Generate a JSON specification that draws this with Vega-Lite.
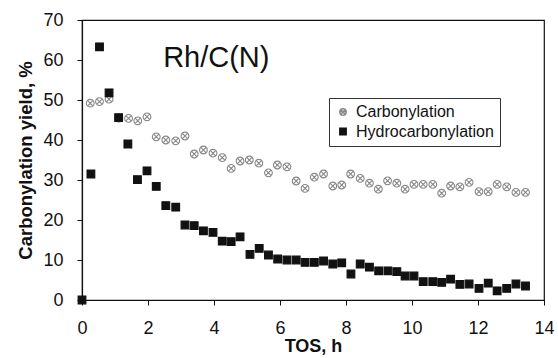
{
  "$schema": "https://vega.github.io/schema/vega-lite/v6.json",
  "width": 462,
  "height": 280,
  "autosize": {"type": "none"},
  "padding": {"left": 82, "top": 20, "right": 14, "bottom": 58},
  "background": "white",
  "config": {
    "font": "Liberation Sans",
    "view": {"stroke": "#111", "strokeWidth": 1.2},
    "axis": {"domainColor": "#111", "tickColor": "#111", "labelColor": "#111", "titleColor": "#111", "grid": false, "labelFlush": false, "labelOverlap": false}
  },
  "datasets": {
    "pts": [
      {"t": 0, "v": 0, "s": "Hydrocarbonylation"},
      {"t": 0.27, "v": 31.5, "s": "Hydrocarbonylation"},
      {"t": 0.53, "v": 63.3, "s": "Hydrocarbonylation"},
      {"t": 0.82, "v": 51.8, "s": "Hydrocarbonylation"},
      {"t": 1.11, "v": 45.6, "s": "Hydrocarbonylation"},
      {"t": 1.39, "v": 39, "s": "Hydrocarbonylation"},
      {"t": 1.68, "v": 30.1, "s": "Hydrocarbonylation"},
      {"t": 1.97, "v": 32.3, "s": "Hydrocarbonylation"},
      {"t": 2.25, "v": 28.4, "s": "Hydrocarbonylation"},
      {"t": 2.54, "v": 23.6, "s": "Hydrocarbonylation"},
      {"t": 2.84, "v": 23.2, "s": "Hydrocarbonylation"},
      {"t": 3.12, "v": 18.75, "s": "Hydrocarbonylation"},
      {"t": 3.40, "v": 18.6, "s": "Hydrocarbonylation"},
      {"t": 3.68, "v": 17.3, "s": "Hydrocarbonylation"},
      {"t": 3.97, "v": 16.9, "s": "Hydrocarbonylation"},
      {"t": 4.25, "v": 14.7, "s": "Hydrocarbonylation"},
      {"t": 4.52, "v": 14.6, "s": "Hydrocarbonylation"},
      {"t": 4.79, "v": 15.8, "s": "Hydrocarbonylation"},
      {"t": 5.09, "v": 11.4, "s": "Hydrocarbonylation"},
      {"t": 5.37, "v": 12.9, "s": "Hydrocarbonylation"},
      {"t": 5.65, "v": 11.25, "s": "Hydrocarbonylation"},
      {"t": 5.93, "v": 10.25, "s": "Hydrocarbonylation"},
      {"t": 6.21, "v": 10, "s": "Hydrocarbonylation"},
      {"t": 6.49, "v": 10, "s": "Hydrocarbonylation"},
      {"t": 6.76, "v": 9.4, "s": "Hydrocarbonylation"},
      {"t": 7.04, "v": 9.4, "s": "Hydrocarbonylation"},
      {"t": 7.32, "v": 9.75, "s": "Hydrocarbonylation"},
      {"t": 7.60, "v": 9, "s": "Hydrocarbonylation"},
      {"t": 7.87, "v": 9.3, "s": "Hydrocarbonylation"},
      {"t": 8.15, "v": 6.5, "s": "Hydrocarbonylation"},
      {"t": 8.43, "v": 9, "s": "Hydrocarbonylation"},
      {"t": 8.71, "v": 8.2, "s": "Hydrocarbonylation"},
      {"t": 8.99, "v": 7.3, "s": "Hydrocarbonylation"},
      {"t": 9.27, "v": 7.3, "s": "Hydrocarbonylation"},
      {"t": 9.54, "v": 7.1, "s": "Hydrocarbonylation"},
      {"t": 9.79, "v": 6, "s": "Hydrocarbonylation"},
      {"t": 10.06, "v": 6, "s": "Hydrocarbonylation"},
      {"t": 10.34, "v": 4.6, "s": "Hydrocarbonylation"},
      {"t": 10.63, "v": 4.6, "s": "Hydrocarbonylation"},
      {"t": 10.9, "v": 4.4, "s": "Hydrocarbonylation"},
      {"t": 11.17, "v": 5.2, "s": "Hydrocarbonylation"},
      {"t": 11.45, "v": 3.9, "s": "Hydrocarbonylation"},
      {"t": 11.73, "v": 4, "s": "Hydrocarbonylation"},
      {"t": 12.03, "v": 2.9, "s": "Hydrocarbonylation"},
      {"t": 12.31, "v": 4.2, "s": "Hydrocarbonylation"},
      {"t": 12.58, "v": 2.3, "s": "Hydrocarbonylation"},
      {"t": 12.87, "v": 2.9, "s": "Hydrocarbonylation"},
      {"t": 13.15, "v": 4, "s": "Hydrocarbonylation"},
      {"t": 13.44, "v": 3.5, "s": "Hydrocarbonylation"},
      {"t": 0.25, "v": 49.2, "s": "Carbonylation"},
      {"t": 0.53, "v": 49.6, "s": "Carbonylation"},
      {"t": 0.82, "v": 50.2, "s": "Carbonylation"},
      {"t": 1.11, "v": 45.5, "s": "Carbonylation"},
      {"t": 1.41, "v": 45.4, "s": "Carbonylation"},
      {"t": 1.69, "v": 44.8, "s": "Carbonylation"},
      {"t": 1.97, "v": 45.8, "s": "Carbonylation"},
      {"t": 2.25, "v": 40.8, "s": "Carbonylation"},
      {"t": 2.54, "v": 40, "s": "Carbonylation"},
      {"t": 2.84, "v": 39.8, "s": "Carbonylation"},
      {"t": 3.12, "v": 41, "s": "Carbonylation"},
      {"t": 3.40, "v": 36.5, "s": "Carbonylation"},
      {"t": 3.68, "v": 37.5, "s": "Carbonylation"},
      {"t": 3.97, "v": 36.7, "s": "Carbonylation"},
      {"t": 4.25, "v": 35.6, "s": "Carbonylation"},
      {"t": 4.52, "v": 32.9, "s": "Carbonylation"},
      {"t": 4.79, "v": 34.75, "s": "Carbonylation"},
      {"t": 5.07, "v": 35, "s": "Carbonylation"},
      {"t": 5.36, "v": 34.2, "s": "Carbonylation"},
      {"t": 5.65, "v": 31.8, "s": "Carbonylation"},
      {"t": 5.92, "v": 33.75, "s": "Carbonylation"},
      {"t": 6.21, "v": 33.3, "s": "Carbonylation"},
      {"t": 6.49, "v": 29.75, "s": "Carbonylation"},
      {"t": 6.76, "v": 27.9, "s": "Carbonylation"},
      {"t": 7.04, "v": 30.7, "s": "Carbonylation"},
      {"t": 7.32, "v": 31.5, "s": "Carbonylation"},
      {"t": 7.60, "v": 28.5, "s": "Carbonylation"},
      {"t": 7.87, "v": 28.75, "s": "Carbonylation"},
      {"t": 8.14, "v": 31.5, "s": "Carbonylation"},
      {"t": 8.43, "v": 30.4, "s": "Carbonylation"},
      {"t": 8.71, "v": 29.2, "s": "Carbonylation"},
      {"t": 8.98, "v": 27.7, "s": "Carbonylation"},
      {"t": 9.26, "v": 29.8, "s": "Carbonylation"},
      {"t": 9.54, "v": 29.2, "s": "Carbonylation"},
      {"t": 9.79, "v": 27.7, "s": "Carbonylation"},
      {"t": 10.06, "v": 28.9, "s": "Carbonylation"},
      {"t": 10.34, "v": 28.9, "s": "Carbonylation"},
      {"t": 10.63, "v": 28.9, "s": "Carbonylation"},
      {"t": 10.9, "v": 26.7, "s": "Carbonylation"},
      {"t": 11.17, "v": 28.5, "s": "Carbonylation"},
      {"t": 11.45, "v": 28.3, "s": "Carbonylation"},
      {"t": 11.73, "v": 29.4, "s": "Carbonylation"},
      {"t": 12.03, "v": 27.1, "s": "Carbonylation"},
      {"t": 12.31, "v": 27.1, "s": "Carbonylation"},
      {"t": 12.58, "v": 28.9, "s": "Carbonylation"},
      {"t": 12.87, "v": 28.3, "s": "Carbonylation"},
      {"t": 13.15, "v": 26.9, "s": "Carbonylation"},
      {"t": 13.44, "v": 26.9, "s": "Carbonylation"}
    ],
    "label": [{"t": 4.07, "v": 60.5, "text": "Rh/C(N)"}]
  },
  "layer": [
    {
      "data": {"name": "pts"},
      "mark": {"type": "point", "size": 60, "strokeWidth": 1.1, "opacity": 1},
      "encoding": {
        "x": {
          "field": "t", "type": "quantitative",
          "scale": {"domain": [0, 14], "nice": false, "zero": false},
          "axis": {"title": "TOS, h", "values": [0, 2, 4, 6, 8, 10, 12, 14], "tickSize": 5, "labelFontSize": 18, "labelPadding": 14, "labelOverlap": false, "titleFontSize": 18, "titleFontWeight": "bold", "titlePadding": 0, "domainWidth": 1.2}
        },
        "y": {
          "field": "v", "type": "quantitative",
          "scale": {"domain": [0, 70], "nice": false},
          "axis": {"title": "Carbonylation yield, %", "values": [0, 10, 20, 30, 40, 50, 60, 70], "tickCount": 8, "tickSize": 5, "labelFontSize": 18, "labelPadding": 14, "labelOverlap": false, "labelBound": false, "labelSeparation": 0, "titleFontSize": 18.5, "titleFontWeight": "bold", "titlePadding": 7, "domainWidth": 1.2}
        },
        "shape": {
          "field": "s", "type": "nominal",
          "scale": {"domain": ["Carbonylation", "Hydrocarbonylation"], "range": ["M-1,0A1,1,0,1,1,1,0A1,1,0,1,1,-1,0Z M-0.6,-0.6L0.6,0.6M-0.6,0.6L0.6,-0.6", "square"]},
          "legend": {
            "title": null, "orient": "none", "legendX": 247, "legendY": 78,
            "strokeColor": "#333", "fillColor": "white", "padding": 6,
            "labelFontSize": 16, "labelColor": "#111", "symbolSize": 40, "rowPadding": 3.5, "labelOffset": 5, "symbolOffset": 0
          }
        },
        "fill": {
          "field": "s", "type": "nominal",
          "scale": {"domain": ["Carbonylation", "Hydrocarbonylation"], "range": ["white", "#111"]},
          "legend": {
            "title": null, "orient": "none", "legendX": 247, "legendY": 78,
            "strokeColor": "#333", "fillColor": "white", "padding": 6,
            "labelFontSize": 16, "labelColor": "#111", "symbolSize": 40, "rowPadding": 3.5, "labelOffset": 5, "symbolOffset": 0
          }
        },
        "stroke": {
          "field": "s", "type": "nominal",
          "scale": {"domain": ["Carbonylation", "Hydrocarbonylation"], "range": ["#888", "#111"]},
          "legend": {
            "title": null, "orient": "none", "legendX": 247, "legendY": 78,
            "strokeColor": "#333", "fillColor": "white", "padding": 6,
            "labelFontSize": 16, "labelColor": "#111", "symbolSize": 40, "rowPadding": 3.5, "labelOffset": 5, "symbolOffset": 0
          }
        },
        "order": {"field": "s", "sort": "ascending"}
      }
    },
    {
      "data": {"name": "label"},
      "mark": {"type": "text", "fontSize": 29, "font": "Liberation Sans", "color": "#111", "align": "center", "baseline": "middle"},
      "encoding": {
        "x": {"field": "t", "type": "quantitative"},
        "y": {"field": "v", "type": "quantitative"},
        "text": {"field": "text"}
      }
    }
  ]
}
